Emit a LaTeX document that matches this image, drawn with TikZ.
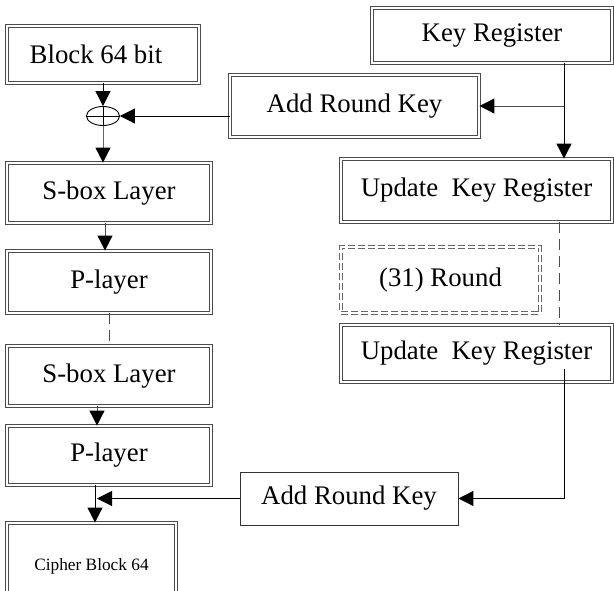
\documentclass[tikz,border=0pt]{standalone}
\usepackage{fontspec}
\setmainfont{Liberation Serif}
\usetikzlibrary{arrows.meta,calc,shapes.geometric}
\begin{document}
\begin{tikzpicture}[x=1pt,y=-1pt,
  dbox/.style={draw=black!70, double, double distance=1.6pt, line width=0.9pt, minimum width=#1, inner sep=0pt},
  sbox/.style={draw=black!80, line width=0.9pt, minimum width=#1, inner sep=0pt},
  arr/.style={line width=1pt, -{Triangle[length=15pt,width=15pt,color=black,fill=black]}},
  dsh/.style={line width=1pt, dash pattern=on 11pt off 6pt},
  every node/.style={font=\fontsize{26.8}{31}\selectfont}]
\useasboundingbox (0,0) rectangle (614,590);
% left column
\node[dbox=192pt, minimum height=57pt] (block) at (103,54.5) {\hspace*{-14pt}Block 64 bit};
\node[draw, ellipse, line width=0.9pt, minimum width=33pt, minimum height=19pt, inner sep=0pt] (ox) at (103,116) {};
\draw[line width=0.9pt] (ox.north) -- (ox.south) (ox.west) -- (ox.east);
\node[dbox=204pt, minimum height=60pt] (sbox1) at (109,193) {S-box Layer};
\node[dbox=204pt, minimum height=62pt] (play1) at (109,282) {P-layer};
\node[dbox=204pt, minimum height=60pt] (sbox2) at (109,376) {S-box Layer};
\node[dbox=204pt, minimum height=59pt] (play2) at (109,455.5) {P-layer};
\node[dbox=169pt, minimum height=86pt, font=\fontsize{17.3}{20}\selectfont] (cipher) at (91.5,566) {Cipher Block 64};
% right column
\node[dbox=240pt, minimum height=55pt] (keyreg) at (492,35.5) {Key Register};
\node[dbox=249pt, minimum height=62pt] (ark1) at (354.5,106) {Add Round Key};
\node[dbox=271pt, minimum height=63pt] (upd1) at (476.5,190.5) {Update\ \ Key Register};
\node[draw=black!60, double, double distance=1.4pt, line width=0.9pt, dash pattern=on 7pt off 3pt, minimum width=199pt, minimum height=66pt] (round) at (440.5,280) {(31) Round};
\node[dbox=271pt, minimum height=57pt] (upd2) at (476.5,353.5) {Update\ \ Key Register};
\node[sbox=218pt, minimum height=53pt] (ark2) at (349,498.5) {Add Round Key};
% helper coordinates
\coordinate (kx) at (564,0);
\coordinate (jx) at (95,0);
\coordinate (s2) at ($(upd2.center -| kx)+(0,15.5)$);
% connectors
\draw[arr] (block.south) -- (ox.north);
\draw[arr] (ox -| ark1.west) -- (ox.east);
\draw[arr, draw=black!60] (ox.south) -- (ox.south |- sbox1.north);
\draw[arr, draw=black!70] ([xshift=-4pt]sbox1.south) -- ([xshift=-4pt]play1.north);
\draw[dsh, draw=black!70] (play1.south) -- (sbox2.north);
\draw[arr, draw=black!70] ([xshift=-12pt]sbox2.south) -- ([xshift=-12pt]play2.north);
\draw[arr] (play2.south -| jx) -- (cipher.north -| jx);
\draw[arr] (ark2.west) -- ([xshift=2pt]ark2.west -| jx);
\draw[arr] (keyreg.south -| kx) -- (upd1.north -| kx);
\draw[arr, draw=black!70] (ark1.east -| kx) -- (ark1.east);
\draw[dsh, draw=black!70] ([xshift=-5pt]upd1.south -| kx) -- ([xshift=-5pt]upd2.north -| kx);
\draw[arr] (s2) |- (ark2.east);
\end{tikzpicture}
\end{document}
